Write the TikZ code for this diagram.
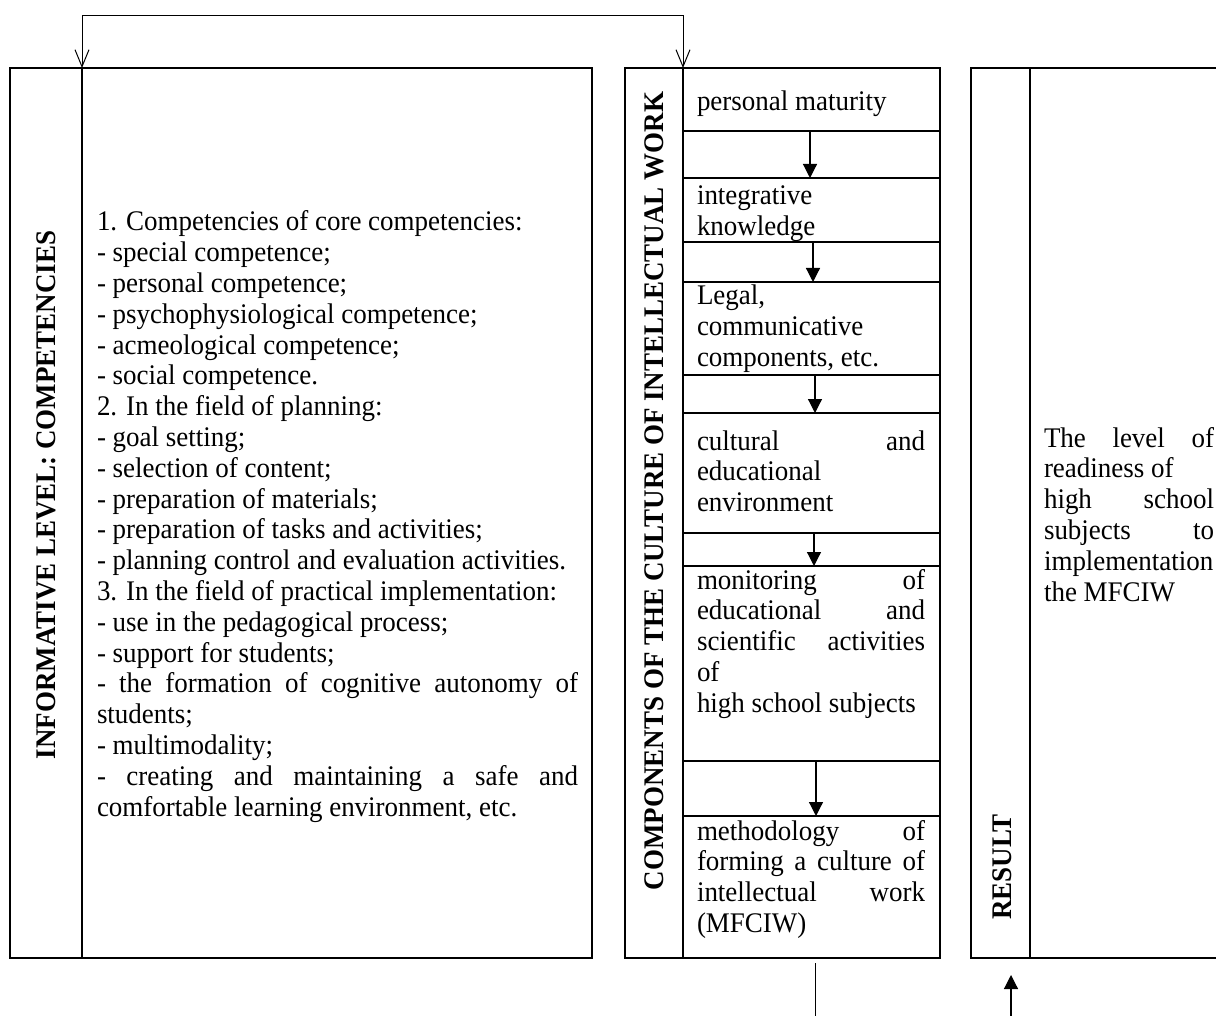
\documentclass[tikz,border=0pt]{standalone}
\usepackage{fontspec}
\setmainfont{Liberation Serif}[FakeStretch=0.95]
\usetikzlibrary{arrows.meta}
\tolerance=10000
\hbadness=10000
\begin{document}
\begin{tikzpicture}[x=1pt,y=-1pt,
  frame/.style={draw, line width=2.3pt, inner sep=0pt, outer sep=0pt, anchor=north west},
  txt/.style={anchor=base west, inner sep=0pt, outer sep=0pt, align=justify, font=\fontsize{28.4}{30.8}\selectfont},
  vtitle/.style={rotate=90, inner sep=0pt, font=\fontsize{28.4}{30.8}\selectfont\bfseries},
  flow/.style={line width=1.2pt, -{Triangle[length=14pt,width=14pt]}},
  feed/.style={line width=1pt, {Straight Barb[length=17pt,width=14pt]}-{Straight Barb[length=17pt,width=14pt]}},
  plainline/.style={line width=1pt}]
\path[use as bounding box, clip] (0,0) rectangle (1216,1016);
\fill[white] (0,0) rectangle (1216,1016);

% left block
\node[frame, minimum width=72, minimum height=890] (Lt) at (10,68) {};
\node[frame, minimum width=510, minimum height=890] (Lc) at (82,68) {};
% middle block
\node[frame, minimum width=58, minimum height=890] (Mt) at (625,68) {};
\node[frame, minimum width=257, minimum height=63] (r1) at (683,68) {};
\node[frame, minimum width=257, minimum height=47] (g1) at (683,131) {};
\node[frame, minimum width=257, minimum height=64] (r2) at (683,178) {};
\node[frame, minimum width=257, minimum height=40] (g2) at (683,242) {};
\node[frame, minimum width=257, minimum height=93] (r3) at (683,282) {};
\node[frame, minimum width=257, minimum height=38] (g3) at (683,375) {};
\node[frame, minimum width=257, minimum height=120] (r4) at (683,413) {};
\node[frame, minimum width=257, minimum height=33] (g4) at (683,533) {};
\node[frame, minimum width=257, minimum height=195] (r5) at (683,566) {};
\node[frame, minimum width=257, minimum height=55] (g5) at (683,761) {};
\node[frame, minimum width=257, minimum height=142] (r6) at (683,816) {};
% right block
\node[frame, minimum width=59, minimum height=890] (Rt) at (971,68) {};
\node[frame, minimum width=240, minimum height=890] (Rc) at (1030,68) {};

% vertical titles
\node[vtitle] (LtT) at (46,495) {INFORMATIVE LEVEL: COMPETENCIES};
\node[vtitle] (MtT) at (654,491) {COMPONENTS OF THE CULTURE OF INTELLECTUAL WORK};
\node[vtitle] (RtT) at (1002,867) {RESULT};

% left content
\node[txt, text width=481] (LcT) at (97,231) {1. Competencies of core competencies:\\
- special competence;\\
- personal competence;\\
- psychophysiological competence;\\
- acmeological competence;\\
- social competence.\\
2. In the field of planning:\\
- goal setting;\\
- selection of content;\\
- preparation of materials;\\
- preparation of tasks and activities;\\
- planning control and evaluation activities.\\
3. In the field of practical implementation:\\
- use in the pedagogical process;\\
- support for students;\\
- the formation of cognitive autonomy of\linebreak
students;\\
- multimodality;\\
- creating and maintaining a safe and\linebreak
comfortable learning environment, etc.};

% middle content
\node[txt, text width=228] (r1T) at (697,111) {personal maturity};
\node[txt, text width=228] (r2T) at (697,205) {integrative\\knowledge};
\node[txt, text width=228] (r3T) at (697,305) {Legal,\\communicative\\components, etc.};
\node[txt, text width=228] (r4T) at (697,450) {cultural and\linebreak educational\\environment};
\node[txt, text width=228] (r5T) at (697,589) {monitoring of\linebreak educational and\linebreak scientific activities\linebreak of\\high school subjects};
\node[txt, text width=228] (r6T) at (697,840) {methodology of\linebreak forming a culture of\linebreak intellectual work\linebreak (MFCIW)};

% right content
\node[txt, text width=170] (RcT) at (1044,447) {The level of\linebreak readiness of\\high school\linebreak subjects to\linebreak implementation\\the MFCIW};

% connectors
\draw[flow] ([xshift=-1.5pt]r1.south) -- ([xshift=-1.5pt]r2.north);
\draw[flow] ([xshift=1.5pt]r2.south) -- ([xshift=1.5pt]r3.north);
\draw[flow] ([xshift=3.5pt]r3.south) -- ([xshift=3.5pt]r4.north);
\draw[flow] ([xshift=2.5pt]r4.south) -- ([xshift=2.5pt]r5.north);
\draw[flow] ([xshift=4.5pt]r5.south) -- ([xshift=4.5pt]r6.north);

\draw[feed] (Lt.north east) -- ++(0,-52) -| (Mt.north east);

\coordinate (downEnd) at (815,1020);
\draw[plainline] ([xshift=3.5pt,yshift=-5pt]r6.south) -- (downEnd);
\coordinate (upStart) at (1011,1020);
\draw[flow] (upStart) -- ([xshift=10.5pt,yshift=-17pt]Rt.south);
\end{tikzpicture}
\end{document}
